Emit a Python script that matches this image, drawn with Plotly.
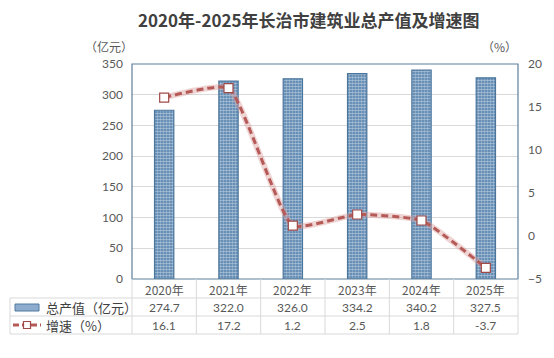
import plotly.graph_objects as go

years = ["2020年", "2021年", "2022年", "2023年", "2024年", "2025年"]
output_value = [274.7, 322.0, 326.0, 334.2, 340.2, 327.5]
growth = [16.1, 17.2, 1.2, 2.5, 1.8, -3.7]
left_ticks = [0, 50, 100, 150, 200, 250, 300, 350]
right_ticks = [-5, 0, 5, 10, 15, 20]
series_names = ["总产值（亿元）", "增速（%）"]

W, H = 554, 358
L, R, T, B = 132, 518, 64, 279

def px(x):
    return (x - L) / (R - L)

def py(y):
    return (B - y) / (B - T)

NUM_FONT = "Lato, Noto Sans CJK SC, sans-serif"
CJK_FONT = "Noto Sans CJK SC, sans-serif"
TXT = "#595959"
GRID = "#d9d9d9"
FRAME = "#5d7f9b"
LINE_RED = "#b55a57"

fig = go.Figure()

fig.add_trace(go.Bar(
    x=years, y=output_value, name=series_names[0], width=0.3,
    marker=dict(color="#4a7aa8", line=dict(color="#4a759c", width=1.2),
                pattern=dict(shape=".", size=3, solidity=0.65,
                             fgcolor="white", bgcolor="#4a7aa8", fillmode="overlay")),
    yaxis="y", showlegend=False,
))
fig.add_trace(go.Scatter(
    x=years, y=growth, name=series_names[1], yaxis="y2", mode="lines",
    line=dict(color="rgba(220,160,160,0.45)", width=6, shape="spline", smoothing=0.45),
    showlegend=False, hoverinfo="skip",
))
fig.add_trace(go.Scatter(
    x=years, y=growth, name=series_names[1], yaxis="y2", mode="lines+markers",
    line=dict(color=LINE_RED, width=3, dash="7px,4px", shape="spline", smoothing=0.45),
    marker=dict(symbol="square", size=9, color="white", line=dict(color="#a04a48", width=1.2)),
    showlegend=False,
))

shapes = []
shapes.append(dict(type="rect", xref="paper", yref="paper", x0=0, x1=1, y0=0, y1=1,
                   line=dict(color=FRAME, width=1.2), layer="above"))
n = len(years)
cw = (R - L) / n
for i in range(n + 1):
    x = L + i * cw
    shapes.append(dict(type="line", xref="paper", yref="paper", x0=px(x), x1=px(x),
                       y0=py(B), y1=py(334), line=dict(color=GRID, width=1)))
shapes.append(dict(type="line", xref="paper", yref="paper", x0=px(10), x1=px(10),
                   y0=py(298), y1=py(334), line=dict(color=GRID, width=1)))
for yy in [298, 316, 334]:
    shapes.append(dict(type="line", xref="paper", yref="paper", x0=px(10), x1=px(R),
                       y0=py(yy), y1=py(yy), line=dict(color=GRID, width=1)))
shapes.append(dict(type="rect", xref="paper", yref="paper", x0=px(15), x1=px(39),
                   y0=py(311), y1=py(304), fillcolor="#8eaccd",
                   line=dict(color="#4f7aa0", width=1)))
shapes.append(dict(type="line", xref="paper", yref="paper", x0=px(13), x1=px(41),
                   y0=py(325), y1=py(325), line=dict(color=LINE_RED, width=3, dash="6px,3px")))
shapes.append(dict(type="rect", xref="paper", yref="paper", x0=px(23.5), x1=px(30.5),
                   y0=py(328.5), y1=py(321.5), fillcolor="white",
                   line=dict(color="#a04a48", width=1.2)))

ann = []
ann.append(dict(text="<b>2020年-2025年长治市建筑业总产值及增速图</b>", xref="paper", yref="paper",
                x=px(309), y=py(19), showarrow=False, xanchor="center", yanchor="middle",
                font=dict(family=CJK_FONT, size=17, color="#404040")))
ann.append(dict(text="（亿元）", xref="paper", yref="paper", x=px(109), y=py(47),
                showarrow=False, xanchor="center", yanchor="middle",
                font=dict(family=CJK_FONT, size=12, color=TXT)))
ann.append(dict(text="（%）", xref="paper", yref="paper", x=px(499), y=py(47),
                showarrow=False, xanchor="center", yanchor="middle",
                font=dict(family=CJK_FONT, size=12, color=TXT)))
for i, yr in enumerate(years):
    ann.append(dict(text=yr, xref="x", yref="paper", x=yr, y=py(289), showarrow=False,
                    xanchor="center", yanchor="middle",
                    font=dict(family=CJK_FONT, size=12, color=TXT)))
    ann.append(dict(text=f"{output_value[i]:.1f}", xref="x", yref="paper", x=yr, y=py(307),
                    showarrow=False, xanchor="center", yanchor="middle",
                    font=dict(family=NUM_FONT, size=12, color=TXT)))
    ann.append(dict(text=f"{growth[i]:.1f}", xref="x", yref="paper", x=yr, y=py(325),
                    showarrow=False, xanchor="center", yanchor="middle",
                    font=dict(family=NUM_FONT, size=12, color=TXT)))
ann.append(dict(text=series_names[0], xref="paper", yref="paper", x=px(44), y=py(307),
                showarrow=False, xanchor="left", yanchor="middle",
                font=dict(family=CJK_FONT, size=13, color="#404040")))
ann.append(dict(text=series_names[1], xref="paper", yref="paper", x=px(44), y=py(325),
                showarrow=False, xanchor="left", yanchor="middle",
                font=dict(family=CJK_FONT, size=13, color="#404040")))

fig.update_layout(
    width=W, height=H,
    margin=dict(l=L, r=W - R, t=T, b=H - B, pad=0),
    paper_bgcolor="white", plot_bgcolor="white",
    xaxis=dict(type="category", range=[-0.5, n - 0.5], showticklabels=False,
               showgrid=False, zeroline=False, ticks=""),
    yaxis=dict(range=[0, 350], tickvals=left_ticks, showgrid=True, gridcolor=GRID,
               gridwidth=1, zeroline=False, ticks="", ticklabelstandoff=8,
               tickfont=dict(family=NUM_FONT, size=12, color=TXT)),
    yaxis2=dict(range=[-5, 20], tickvals=right_ticks, overlaying="y", side="right",
                showgrid=False, zeroline=False, ticks="", ticklabelstandoff=9,
                tickfont=dict(family=NUM_FONT, size=12, color=TXT)),
    shapes=shapes, annotations=ann, bargap=0.7,
)

fig.write_html("out.html")
